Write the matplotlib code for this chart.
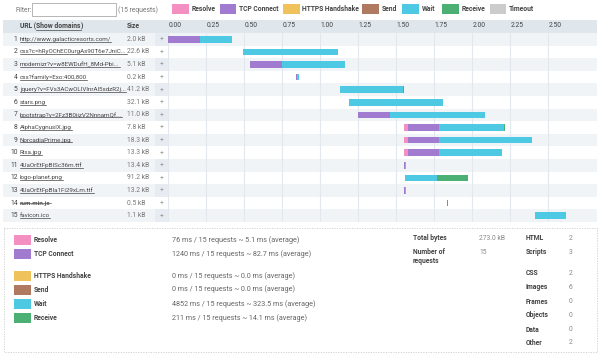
import matplotlib
matplotlib.use("Agg")
import matplotlib.pyplot as plt
from matplotlib.patches import Rectangle

plt.rcParams['font.family'] = ['Roboto', 'DejaVu Sans']

# ---- data ----
urls = ["http://www.galacticresorts.com/",
        "css?c=hRyOChEC0urgAs90T6e7JniC...",
        "modernizr?v=w8EWDufH_8Md-Pbi...",
        "css?family=Exo:400,800",
        "jquery?v=FVs3ACwOLIVInrAl5sdzR2j...",
        "stars.png",
        "bootstrap?v=2Fz3B0iizV2NnnamQf...",
        "AlphaCygnusIX.jpg",
        "NorcadiaPrime.jpg",
        "Risa.jpg",
        "4UaOrEtFpBISc36m.ttf",
        "logo-planet.png",
        "4UaOrEtFpBIa1Fi29xLm.ttf",
        "rum.min.js",
        "favicon.ico"]
sizes = ["2.0 kB", "22.6 kB", "5.1 kB", "0.2 kB", "41.2 kB", "32.1 kB", "11.0 kB",
         "7.8 kB", "18.3 kB", "13.3 kB", "13.4 kB", "91.2 kB", "13.2 kB", "0.5 kB", "1.1 kB"]

# timings in ms
start_ms   = [0, 491, 540, 840, 1130, 1187, 1250, 1550, 1550, 1550, 1550, 1555, 1550, 1835, 2410]
resolve_ms = [0, 0, 0, 3, 0, 0, 0, 25, 25, 25, 3, 0, 3, 0, 0]
connect_ms = [210, 0, 206, 6, 0, 0, 208, 205, 205, 205, 5, 0, 5, 0, 0]
https_ms   = [0] * 15
send_ms    = [0] * 15
wait_ms    = [209, 626, 417, 8, 417, 618, 625, 429, 616, 414, 4, 211, 4, 0, 205]
receive_ms = [0, 0, 0, 0, 4, 0, 0, 3, 0, 0, 0, 204, 0, 6, 0]

phase_names  = ["Resolve", "TCP Connect", "HTTPS Handshake", "Send", "Wait", "Receive", "Timeout"]
phase_colors = ["#f48fc1", "#a07bcf", "#efc25b", "#b07a62", "#4ec9e4", "#4caf73", "#cccccc"]

summary_stats = ["76 ms / 15 requests ~ 5.1 ms (average)",
                 "1240 ms / 15 requests ~ 82.7 ms (average)",
                 "0 ms / 15 requests ~ 0.0 ms (average)",
                 "0 ms / 15 requests ~ 0.0 ms (average)",
                 "4852 ms / 15 requests ~ 323.5 ms (average)",
                 "211 ms / 15 requests ~ 14.1 ms (average)"]
total_bytes = "273.0 kB"
n_requests = 15
type_names  = ["HTML", "Scripts", "CSS", "Images", "Frames", "Objects", "Data", "Other"]
type_counts = [2, 3, 2, 6, 0, 0, 0, 2]
tick_vals = [0.0, 0.25, 0.5, 0.75, 1.0, 1.25, 1.5, 1.75, 2.0, 2.25, 2.5]

# ---- layout (pixels) ----
W, H = 600, 357
x0_px, px_per_s = 168.3, 152.0
row_top, row_h = 33.0, 12.6
n = len(urls)
FS = 4.9
FS_URL = 4.5
txt = "#444444"

fig = plt.figure(figsize=(W / 100, H / 100), dpi=100)
bg = fig.add_axes([0, 0, 1, 1])
bg.set_xlim(0, W)
bg.set_ylim(H, 0)
bg.axis("off")


def text_right(t):
    fig.canvas.draw()
    bb = t.get_window_extent()
    return bg.transData.inverted().transform((bb.x1, 0))[0]


def underline(t, color):
    fig.canvas.draw()
    bb = t.get_window_extent()
    inv = bg.transData.inverted()
    (xa, ya), (xb, yb) = inv.transform([(bb.x0, bb.y0), (bb.x1, bb.y1)])
    y = ya - 0.3
    bg.plot([xa, xb], [y, y], color=color, lw=0.5)


# filter + legend
bg.text(15, 10, "Filter:", fontsize=FS, color="#777", va="center")
bg.add_patch(Rectangle((32.3, 3.3), 84, 12.7, fc="white", ec="#aaaaaa", lw=0.6))
bg.text(118.5, 10, "(15 requests)", fontsize=FS, color="#777", va="center")
leg_x = [172, 219.5, 283, 362, 402, 442, 489.5]
for lx, name, col in zip(leg_x, phase_names, phase_colors):
    bg.add_patch(Rectangle((lx, 4), 16.5, 10, fc=col, ec="none"))
    bg.text(lx + 19.5, 9.3, name, fontsize=FS, color=txt, va="center", fontweight="bold")

# table backgrounds
bg.add_patch(Rectangle((3, 20), 594, 13, fc="#dfe6ec", ec="none"))
for i in range(n):
    top = row_top + i * row_h
    if i % 2 == 0:
        bg.add_patch(Rectangle((3, top), 594, row_h, fc="#f1f4f7", ec="none"))
        bg.add_patch(Rectangle((155, top), 13.3, row_h, fc="#e6ecf1", ec="none"))

hdr = bg.text(20, 26.5, "URL (", fontsize=FS, color=txt, va="center", fontweight="bold")
sd = bg.text(text_right(hdr), 26.5, "Show domains", fontsize=FS, color=txt, va="center",
             fontweight="bold")
underline(sd, txt)
bg.text(text_right(sd), 26.5, ")", fontsize=FS, color=txt, va="center", fontweight="bold")
bg.text(127, 26.5, "Size", fontsize=FS, color=txt, va="center", fontweight="bold")

for i in range(n):
    yc = row_top + i * row_h + row_h / 2
    bg.text(17.5, yc, str(i + 1), fontsize=FS, color=txt, va="center", ha="right")
    if urls[i] == "rum.min.js":
        t = bg.text(20, yc, urls[i], fontsize=FS_URL, color="#555", va="center", fontweight="bold")
        fig.canvas.draw()
        bb = t.get_window_extent()
        inv = bg.transData.inverted()
        xa = inv.transform((bb.x0, 0))[0]
        xb = inv.transform((bb.x1, 0))[0]
        bg.plot([xa, xb], [yc + 0.3, yc + 0.3], color="#555", lw=0.5)
    else:
        t = bg.text(20, yc, urls[i], fontsize=FS_URL, color=txt, va="center")
        underline(t, txt)
    bg.text(127, yc, sizes[i], fontsize=FS, color="#777", va="center")
    bg.text(161.5, yc, "+", fontsize=FS, color="#999", va="center", ha="center")

# ---- waterfall ----
ax = fig.add_axes([x0_px / W, 1 - (row_top + n * row_h) / H,
                   (597 - x0_px) / W, n * row_h / H])
ax.set_xlim(0, (597 - x0_px) / px_per_s)
ax.set_ylim(n - 0.5, -0.5)
ax.patch.set_alpha(0)
for s in ax.spines.values():
    s.set_visible(False)
for tv in tick_vals:
    ax.axvline(tv, color="#e2e8ed", lw=0.8, zorder=0)
ax.xaxis.set_ticks_position("top")
ax.set_xticks(tick_vals)
ax.set_xticklabels(["%.2f" % v for v in tick_vals], ha="left", fontsize=FS, color=txt)
ax.tick_params(axis="x", length=0, pad=3.2)
ax.set_yticks([])

rows = list(range(n))
left = [s / 1000 for s in start_ms]
phases = [resolve_ms, connect_ms, https_ms, send_ms, wait_ms, receive_ms]
for vals, col in zip(phases, phase_colors):
    w = [v / 1000 for v in vals]
    ax.barh(rows, w, left=left, height=0.53, color=col, edgecolor="none", zorder=3)
    left = [a + b for a, b in zip(left, w)]

# ---- summary box ----
bg.add_patch(Rectangle((3.5, 228), 593, 124, fc="none", ec="#cccccc", lw=0.6,
                       linestyle=(0, (1.5, 1.5))))
sum_y = [240, 254.3, 275.7, 289.5, 303.6, 317.6]
for yy, name, col, st in zip(sum_y, phase_names[:6], phase_colors[:6], summary_stats):
    bg.add_patch(Rectangle((14, yy - 5), 17, 10, fc=col, ec="none"))
    bg.text(33.5, yy, name, fontsize=FS, color=txt, va="center", fontweight="bold")
    bg.text(172, yy, st, fontsize=5.2, color="#666", va="center")

bg.text(413, 238.5, "Total bytes", fontsize=FS, color=txt, va="center", fontweight="bold")
bg.text(479, 238.5, total_bytes, fontsize=FS, color="#888", va="center")
bg.text(413, 252.3, "Number of", fontsize=FS, color=txt, va="center", fontweight="bold")
bg.text(413, 261.3, "requests", fontsize=FS, color=txt, va="center", fontweight="bold")
bg.text(479, 252.3, str(n_requests), fontsize=FS, color="#888", va="center")
type_y = [238.5, 252.3, 273.3, 287.3, 301.7, 315.3, 329.7, 343]
for yy, nm, c in zip(type_y, type_names, type_counts):
    bg.text(525.7, yy, nm, fontsize=FS, color=txt, va="center", fontweight="bold")
    bg.text(569, yy, str(c), fontsize=FS, color="#888", va="center")

fig.savefig("out.png", dpi=100)
